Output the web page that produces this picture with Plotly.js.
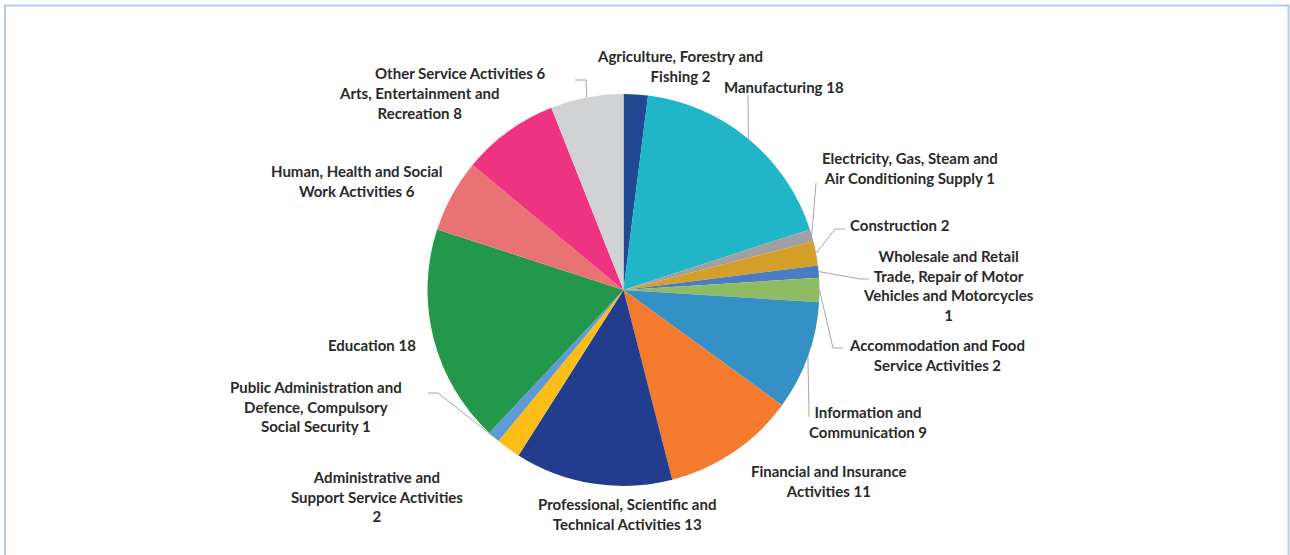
<!DOCTYPE html>
<html>
<head>
<meta charset="utf-8">
<script src="https://cdn.plot.ly/plotly-3.0.1.min.js"></script>
<style>html,body{margin:0;padding:0;background:#fff;}#chart{width:1290px;height:555px;}</style>
</head>
<body>
<div id="chart"></div>
<script>
// ---- Data ----
const categories = [
  "Agriculture, Forestry and Fishing",
  "Manufacturing",
  "Electricity, Gas, Steam and Air Conditioning Supply",
  "Construction",
  "Wholesale and Retail Trade, Repair of Motor Vehicles and Motorcycles",
  "Accommodation and Food Service Activities",
  "Information and Communication",
  "Financial and Insurance Activities",
  "Professional, Scientific and Technical Activities",
  "Administrative and Support Service Activities",
  "Public Administration and Defence, Compulsory Social Security",
  "Education",
  "Human, Health and Social Work Activities",
  "Arts, Entertainment and Recreation",
  "Other Service Activities"
];
const values = [2, 18, 1, 2, 1, 2, 9, 11, 13, 2, 1, 18, 6, 8, 6];
// label text as displayed (line breaks as in the picture)
const labelLines = [
  ["Agriculture, Forestry and", "Fishing"],
  ["Manufacturing"],
  ["Electricity, Gas, Steam and", "Air Conditioning Supply"],
  ["Construction"],
  ["Wholesale and Retail", "Trade, Repair of Motor", "Vehicles and Motorcycles", ""],
  ["Accommodation and Food", "Service Activities"],
  ["Information and", "Communication"],
  ["Financial and Insurance", "Activities"],
  ["Professional, Scientific and", "Technical Activities"],
  ["Administrative and", "Support Service Activities", ""],
  ["Public Administration and", "Defence, Compulsory", "Social Security"],
  ["Education"],
  ["Human, Health and Social", "Work Activities"],
  ["Arts, Entertainment and", "Recreation"],
  ["Other Service Activities"]
];

// ---- Styles / layout ----
const colors = ["#1F4A93","#21B5C8","#A0A0A3","#D4A02A","#4A7CBF","#8FBC63","#3590C5",
                "#F47A2E","#233D8E","#FDBD17","#5E9BD6","#23984A","#E97372","#EE3481","#D1D2D4"];
const W = 1290, H = 555;
const CX = 623.5, CY = 290, R = 196;
// label centre positions in px
const labelPos = [
  [680,66],[784,87],[910,168],[900,225],[948,285],[937,355],[868,422],
  [829,481],[627,514],[377,496],[316,407],[372,345],[356,181],[419,103],[460,73]
];
// leader line extra points (px) for labels that have a connector
const leaderPts = {
  1: [[748,95]],
  2: [[816,183]],
  3: [[835,229],[845,229]],
  4: [[860,279],[869,279]],
  5: [[833,348],[843,348]],
  6: [[809,417]],
  10: [[438,393],[428,393]],
  14: [[586,80],[575,80]]
};

const px = x => x / W;
const py = y => 1 - y / H;

const total = values.reduce((a, b) => a + b, 0);
let cum = 0;
const shapes = [];
const annotations = [];
values.forEach((v, i) => {
  const mid = (cum + v / 2) / total * 2 * Math.PI;
  cum += v;
  const lines = labelLines[i].slice();
  const last = lines.length - 1;
  if (lines[last] === "") lines[last] = String(v);
  else lines[last] = lines[last] + " " + v;
  annotations.push({
    xref: "paper", yref: "paper",
    x: px(labelPos[i][0]), y: py(labelPos[i][1]),
    xanchor: "center", yanchor: "middle",
    text: lines.join("<br>"), showarrow: false, align: "center",
    font: {family: "Lato, 'Noto Sans', sans-serif", size: 15, color: "#2A2A2A", weight: 700}
  });
  if (leaderPts[i]) {
    const ex = CX + R * Math.sin(mid), ey = CY - R * Math.cos(mid);
    let path = "M" + px(ex) + "," + py(ey);
    leaderPts[i].forEach(p => { path += " L" + px(p[0]) + "," + py(p[1]); });
    shapes.push({type: "path", xref: "paper", yref: "paper", path: path,
                 line: {color: "#A6A6A6", width: 1}});
  }
});
// outer frame
shapes.push({type: "rect", xref: "paper", yref: "paper",
  x0: px(5), x1: px(1288.5), y0: py(565), y1: py(5.5),
  line: {color: "#B3CBE8", width: 2}, fillcolor: "rgba(0,0,0,0)"});

const trace = {
  type: "pie",
  labels: categories,
  values: values,
  sort: false,
  direction: "clockwise",
  rotation: 0,
  textinfo: "none",
  hoverinfo: "label+value",
  marker: {colors: colors, line: {width: 0}},
  domain: {x: [px(CX - 300), px(CX + 300)], y: [py(CY + R), py(CY - R)]},
  showlegend: false
};

Plotly.newPlot("chart", [trace], {
  width: W, height: H,
  margin: {l: 0, r: 0, t: 0, b: 0, pad: 0},
  paper_bgcolor: "#ffffff",
  showlegend: false,
  shapes: shapes,
  annotations: annotations
}, {displayModeBar: false, staticPlot: true});
</script>
</body>
</html>
